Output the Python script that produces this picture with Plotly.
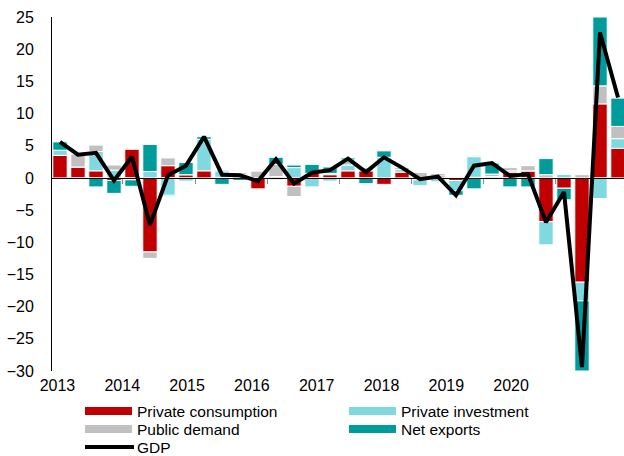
import plotly.graph_objects as go

# quarterly contributions to annualised real GDP growth, 2013Q1 - 2020Q4 (pp)
quarters = [f"{y}Q{q}" for y in range(2013, 2021) for q in range(1, 5)]

private_consumption = [3.5, 1.7, 1.1, -0.4, 4.5, -11.5, 1.9, 0.5,
                       1.1, 0.1, 0.3, -1.7, 0.2, -1.3, 0.7, 0.5,
                       1.1, 1.1, -1.0, 0.9, -0.3, 0.3, -0.4, 0.1,
                       -0.2, 0.9, 1.1, -6.8, -1.6, -16.2, 11.5, 4.6]
private_investment = [0.8, 0.0, 3.0, 1.2, 0.0, 1.0, -2.7, -0.5,
                      4.9, 1.0, 0.2, 0.0, -0.3, 1.6, -1.4, -0.5,
                      0.9, 0.5, 3.2, 0.4, -0.9, -0.6, -1.6, 3.2,
                      0.2, 0.2, 0.0, -3.6, 0.6, -2.9, -3.2, 1.5]
public_demand = [0.0, 2.0, 1.0, 0.8, -0.3, -1.0, 1.2, 0.0,
                 0.0, 0.2, 0.3, 1.1, 1.9, -1.6, 0.0, 0.2,
                 0.8, 0.2, 0.0, 0.4, 0.9, 0.4, 0.0, 0.2,
                 0.4, 0.5, 0.8, 0.5, 0.0, 0.5, 2.8, 1.9]
net_exports = [1.3, -0.2, -1.4, -2.0, -1.0, 4.2, -0.2, 1.9,
               0.4, -1.0, -0.4, 0.0, 1.1, 0.4, 1.4, 1.0,
               0.3, -0.9, 1.0, 0.0, 0.0, 0.0, -0.7, -1.7,
               1.7, -1.4, -1.4, 2.5, -1.8, -10.9, 10.7, 4.4]
gdp = [5.6, 3.6, 3.9, -0.4, 3.3, -7.3, 0.4, 1.9,
       6.4, 0.5, 0.4, -0.5, 2.9, -0.9, 0.8, 1.2,
       3.0, 0.9, 3.2, 1.6, -0.2, 0.2, -2.7, 1.9,
       2.3, 0.3, 0.6, -6.9, -2.2, -29.4, 22.6, 12.5]

years = ["2013", "2014", "2015", "2016", "2017", "2018", "2019", "2020"]

C_PC = "#C00000"
C_PI = "#80D8E0"
C_PD = "#C0C0C0"
C_NX = "#009B9B"
FONT = "Arial, Liberation Sans, sans-serif"

W, H = 624, 456
M = dict(l=52, r=0, t=17, b=85)
PW = W - M["l"] - M["r"]
PH = H - M["t"] - M["b"]

idx = list(range(len(quarters)))
xrange = [-0.444, 31.333]

componentes = [
    ("Private consumption", private_consumption, C_PC),
    ("Private investment", private_investment, C_PI),
    ("Public demand", public_demand, C_PD),
    ("Net exports", net_exports, C_NX),
]

fig = go.Figure()
for nombre, vals, color in componentes:
    fig.add_trace(go.Bar(
        x=idx, y=vals, name=nombre, width=0.8,
        marker=dict(color=color, line=dict(color="white", width=1)),
        customdata=quarters,
        hovertemplate="%{customdata}<br>" + nombre + ": %{y:.1f}<extra></extra>",
    ))

fig.add_trace(go.Scatter(
    x=idx, y=gdp, xaxis="x2", mode="lines", name="GDP",
    line=dict(color="black", width=4),
    customdata=quarters,
    hovertemplate="%{customdata}<br>GDP: %{y:.1f}<extra></extra>",
))

# legend drawn by hand: 2 columns, tight rows (like the Excel original)
# positions given in window pixels
def px_x(p):
    return (p - M["l"]) / PW

def px_y(p):
    return (H - M["b"] - p) / PH

leyenda = [(n, c, "bar") for n, _, c in componentes] + [("GDP", "black", "line")]
col_x = [85, 349]
row_y = [411, 429, 447]
for k, (nombre, color, tipo) in enumerate(leyenda):
    x0 = col_x[k % 2]
    yc = row_y[k // 2]
    if tipo == "bar":
        fig.add_shape(type="rect", xref="paper", yref="paper",
                      x0=px_x(x0), x1=px_x(x0 + 47),
                      y0=px_y(yc - 4), y1=px_y(yc + 4),
                      fillcolor=color, line_width=0)
    else:
        fig.add_shape(type="line", xref="paper", yref="paper",
                      x0=px_x(x0), x1=px_x(x0 + 49), y0=px_y(yc), y1=px_y(yc),
                      line=dict(color=color, width=4))
    fig.add_annotation(text=nombre, xref="paper", yref="paper",
                       x=px_x(x0 + 50), y=px_y(yc), xanchor="left",
                       yanchor="middle", showarrow=False,
                       font=dict(size=15.5, color="black"))

fig.update_layout(
    width=W, height=H,
    margin=M,
    paper_bgcolor="white", plot_bgcolor="white",
    font=dict(family=FONT, size=16, color="black"),
    barmode="relative",
    showlegend=False,
    xaxis=dict(
        range=xrange, showgrid=False, zeroline=False, showline=False,
        tickvals=[-0.14 + 3.6 * k for k in range(len(years))],
        ticktext=years, ticks="", tickfont=dict(size=16),
        ticklabelstandoff=3, automargin=False,
    ),
    xaxis2=dict(
        overlaying="x", anchor="free", position=30 / 55, range=xrange,
        showgrid=False, zeroline=False, showline=True, linecolor="black",
        linewidth=1, showticklabels=False, ticks="outside", ticklen=5,
        tickcolor="#8C8C8C", tickwidth=1, automargin=False,
        tickvals=[3.5 + 4 * k for k in range(7)],
    ),
    yaxis=dict(
        range=[-30, 25], dtick=5, tick0=0, showgrid=False,
        zeroline=False, showline=True, linecolor="black", linewidth=1,
        ticks="", ticklabelstandoff=14, tickfont=dict(size=16),
        automargin=False,
    ),
)

# no page margin / scrollbars so the figure fills the window exactly
fig.write_html(
    "out.html",
    config={"displayModeBar": False},
    post_script="document.body.style.margin='0';document.body.style.overflow='hidden';",
)
